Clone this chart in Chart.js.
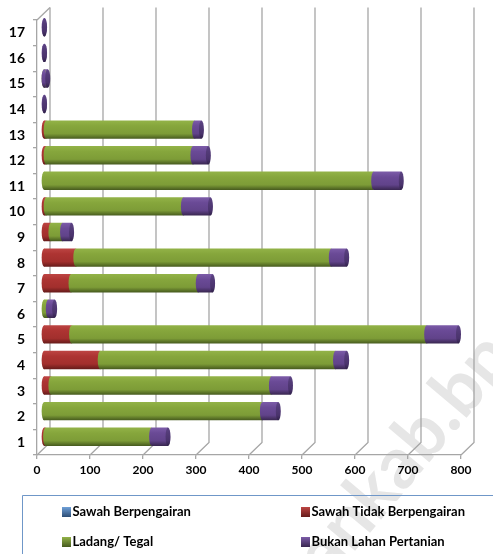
<!DOCTYPE html>
<html lang="en">
  <head>
    <meta charset="UTF-8" />
    <title>Luas Lahan</title>
    <script src="https://cdn.jsdelivr.net/npm/chart.js"></script>
    <style>
      html, body { margin: 0; padding: 0; background: #fff; }
      canvas { display: block; }
    </style>
  </head>
  <body>
    <canvas id="barChart" width="493" height="554"></canvas>

    <script>
      const categories = ['1','2','3','4','5','6','7','8','9','10','11','12','13','14','15','16','17'];
      const sawahBerpengairan = [0,0,0,0,0,0,0,0,0,0,0,0,0,0,0,0,0];
      const sawahTidak = [4,0,14,107,53,0,52,61,14,5,0,5,5,0,0,0,0];
      const ladang = [200,413,416,444,670,9,240,482,22,259,623,277,280,0,1,0,0];
      const bukanLahan = [31,30,36,21,60,12,27,29,17,51,52,29,13,2,7,2,2];
      const seriesNames = ['Sawah Berpengairan','Sawah Tidak Berpengairan','Ladang/ Tegal','Bukan Lahan Pertanian'];

      const FONT = 'Lato, "Open Sans", sans-serif';
      const GRID = '#a6a6a6';
      // 3D look of the original: back wall offset and the plane the bars sit in
      const DEPTH_X = 13, DEPTH_Y = 12.5;
      const BAR_DX = 6.5, BAR_DY = 5.5, CAP_RX = 2.5;

      // top-to-bottom shading of each cylinder
      const shades = [
        ['#6fa0d8', '#4f81bd', '#4a78b0', '#2c4d75'],
        ['#bd4543', '#ad3432', '#a22f2d', '#651b1a'],
        ['#93b348', '#86a63c', '#7d9c37', '#465a1e'],
        ['#7c5ca8', '#6a4a96', '#61438a', '#38264f']
      ];

      function barGradient(chart, dataIndex, stops) {
        const yScale = chart.scales.y;
        const y = yScale ? yScale.getPixelForValue(dataIndex) : NaN;
        // scales are not laid out yet on the first pass
        if (!Number.isFinite(y)) return stops[1];
        const half = 9.2;
        const g = chart.ctx.createLinearGradient(0, y - half, 0, y + half);
        g.addColorStop(0, stops[0]);
        g.addColorStop(0.3, stops[1]);
        g.addColorStop(0.72, stops[2]);
        g.addColorStop(1, stops[3]);
        return g;
      }

      const wallPlugin = {
        id: 'wall',
        beforeDraw(chart) {
          const { ctx, scales: { x, y } } = chart;
          const bottom = y.bottom, top = y.top;
          ctx.save();
          // watermark, placed by the dot of the domain name
          ctx.save();
          ctx.translate(458, 428);
          ctx.rotate(-50 * Math.PI / 180);
          ctx.font = 'bold 72px ' + FONT;
          ctx.fillStyle = '#e6e6e6';
          ctx.fillText('ankab.bps', -ctx.measureText('ankab').width - 8, 0);
          ctx.restore();
          // wall gridlines and the floor diagonals
          ctx.strokeStyle = GRID;
          ctx.lineWidth = 1.3;
          x.ticks.forEach(t => {
            const px = x.getPixelForValue(t.value);
            ctx.beginPath();
            ctx.moveTo(px, bottom);
            ctx.lineTo(px + DEPTH_X, bottom - DEPTH_Y);
            ctx.lineTo(px + DEPTH_X, top - DEPTH_Y);
            ctx.stroke();
          });
          ctx.beginPath();
          ctx.moveTo(x.left, top);
          ctx.lineTo(x.left + DEPTH_X, top - DEPTH_Y);
          ctx.stroke();
          ctx.restore();
        },
        beforeDatasetsDraw(chart) {
          chart.ctx.save();
          chart.ctx.translate(BAR_DX, -BAR_DY);
        },
        afterDatasetsDraw(chart) {
          const ctx = chart.ctx;
          // round ends of the cylinders
          categories.forEach((c, i) => {
            let lastEl = null;
            chart.data.datasets.forEach((ds, s) => {
              if (!ds.data[i]) return;
              const el = chart.getDatasetMeta(s).data[i];
              ctx.fillStyle = barGradient(chart, i, shades[s]);
              ctx.beginPath();
              ctx.ellipse(el.base, el.y, CAP_RX, el.height / 2, 0, 0, Math.PI * 2);
              ctx.fill();
              lastEl = el;
            });
            if (lastEl) {
              ctx.fillStyle = barGradient(chart, i, ['#5e4585', '#533b78', '#4a336c', '#2f2048']);
              ctx.beginPath();
              ctx.ellipse(lastEl.x, lastEl.y, CAP_RX, lastEl.height / 2, 0, 0, Math.PI * 2);
              ctx.fill();
            }
          });
          ctx.restore();
        },
        afterDraw(chart) {
          const ctx = chart.ctx;
          ctx.save();
          // legend box, open at the right and the bottom like the original crop
          ctx.strokeStyle = '#6f97c8';
          ctx.lineWidth = 1;
          ctx.beginPath();
          ctx.moveTo(22.5, 554);
          ctx.lineTo(22.5, 495.5);
          ctx.lineTo(493, 495.5);
          ctx.stroke();
          const slots = [[62, 512], [301, 512], [62, 542], [301, 542]];
          ctx.font = 'bold 13px ' + FONT;
          ctx.textBaseline = 'middle';
          chart.data.datasets.forEach((ds, s) => {
            const [lx, ly] = slots[s];
            const g = ctx.createLinearGradient(0, ly - 5, 0, ly + 5);
            g.addColorStop(0, shades[s][0]);
            g.addColorStop(1, shades[s][3]);
            ctx.fillStyle = g;
            ctx.fillRect(lx, ly - 5, 9, 10);
            ctx.fillStyle = '#000';
            ctx.fillText(ds.label, lx + 10.5, ly);
          });
          ctx.restore();
        }
      };

      const barCtx = document.getElementById('barChart').getContext('2d');
      new Chart(barCtx, {
        type: 'bar',
        plugins: [wallPlugin],
        data: {
          labels: categories,
          datasets: [sawahBerpengairan, sawahTidak, ladang, bukanLahan].map((values, s) => ({
            label: seriesNames[s],
            data: values,
            borderWidth: 0,
            barPercentage: 0.72,
            categoryPercentage: 1,
            backgroundColor: c => barGradient(c.chart, c.dataIndex, shades[s])
          }))
        },
        options: {
          indexAxis: 'y',
          responsive: false,
          animation: false,
          layout: { padding: { top: 20, right: 32, bottom: 69, left: 0 } },
          plugins: { legend: { display: false }, tooltip: { enabled: false } },
          scales: {
            x: {
              stacked: true,
              min: 0,
              max: 800,
              ticks: { stepSize: 100, color: '#000', maxRotation: 0, padding: 4, font: { family: FONT, weight: 'bold', size: 12 } },
              grid: { drawOnChartArea: false, color: GRID, tickLength: 4, lineWidth: 1.3 },
              border: { color: GRID, width: 1.3 },
              afterFit(scale) { scale.height = 30; }
            },
            y: {
              stacked: true,
              reverse: true,
              ticks: { color: '#000', padding: 8, font: { family: FONT, weight: 'bold', size: 14 } },
              grid: { drawOnChartArea: false, color: GRID, tickLength: 4, lineWidth: 1.3 },
              border: { color: GRID, width: 1.3 },
              afterFit(scale) { scale.width = 37; }
            }
          }
        }
      });
    </script>
  </body>
</html>
